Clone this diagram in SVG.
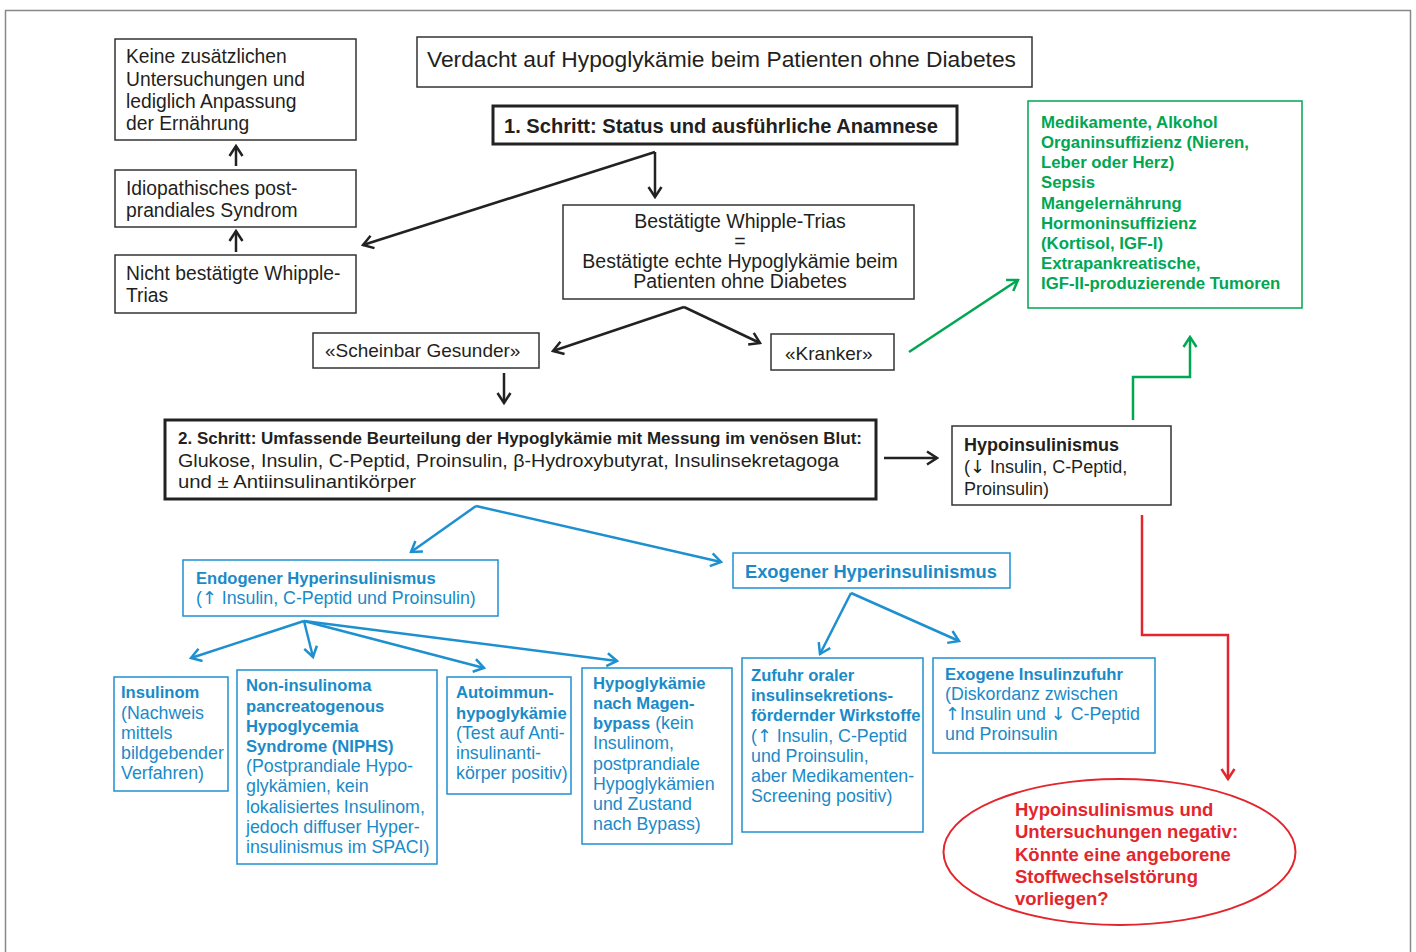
<svg xmlns="http://www.w3.org/2000/svg" width="1416" height="952" viewBox="0 0 1416 952">
<style>
.t{font-family:"Liberation Sans",Arial,sans-serif;fill:#231f20}
.ar{font-family:"DejaVu Sans",sans-serif}
.b{font-weight:bold}
.bx{fill:#fff;stroke:#333;stroke-width:1.5}
.bxt{fill:#fff;stroke:#222;stroke-width:3}
.gbx{fill:#fff;stroke:#00a651;stroke-width:1.5}
.blbx{fill:#fff;stroke:#1e90d0;stroke-width:1.5}
.k{font-size:19.3px}
.gt{font-size:16.8px;font-weight:bold;fill:#00a651}
.bt{font-size:17.8px;fill:#1a8ac8}
.bt.b{font-size:16.6px}
.rt{font-size:18.5px;font-weight:bold;fill:#e3262d}
.ck{stroke:#222;stroke-width:2.5;fill:none}
.cg{stroke:#00a651;stroke-width:2.5;fill:none}
.cb{stroke:#1e90d0;stroke-width:2.5;fill:none}
.cr{stroke:#e3262d;stroke-width:2.5;fill:none}
</style>
<defs>
<marker id="ak" markerUnits="userSpaceOnUse" viewBox="-12 -8 14 16" markerWidth="14" markerHeight="16" refX="0" refY="0" orient="auto"><path d="M-10,-6.5 L0,0 L-10,6.5" fill="none" stroke="#222" stroke-width="2.5"/></marker>
<marker id="ag" markerUnits="userSpaceOnUse" viewBox="-12 -8 14 16" markerWidth="14" markerHeight="16" refX="0" refY="0" orient="auto"><path d="M-10,-6.5 L0,0 L-10,6.5" fill="none" stroke="#00a651" stroke-width="2.5"/></marker>
<marker id="ab" markerUnits="userSpaceOnUse" viewBox="-12 -8 14 16" markerWidth="14" markerHeight="16" refX="0" refY="0" orient="auto"><path d="M-10,-6.5 L0,0 L-10,6.5" fill="none" stroke="#1e90d0" stroke-width="2.5"/></marker>
<marker id="ar" markerUnits="userSpaceOnUse" viewBox="-12 -8 14 16" markerWidth="14" markerHeight="16" refX="0" refY="0" orient="auto"><path d="M-10,-6.5 L0,0 L-10,6.5" fill="none" stroke="#e3262d" stroke-width="2.5"/></marker>
</defs>
<rect x="5.5" y="10.5" width="1405" height="960" fill="#fff" stroke="#888" stroke-width="1.5"/>

<g id="connectors">
<path class="ck" d="M236,166 V146" marker-end="url(#ak)"/>
<path class="ck" d="M236,252 V231" marker-end="url(#ak)"/>
<path class="ck" d="M655,152 V197" marker-end="url(#ak)"/>
<path class="ck" d="M655,152 L363,245" marker-end="url(#ak)"/>
<path class="ck" d="M684,307 L553,351" marker-end="url(#ak)"/>
<path class="ck" d="M684,307 L760,343" marker-end="url(#ak)"/>
<path class="ck" d="M504,373 V403" marker-end="url(#ak)"/>
<path class="ck" d="M884,458 H937" marker-end="url(#ak)"/>
<path class="cg" d="M909,352 L1018,280" marker-end="url(#ag)"/>
<path class="cg" d="M1133,420 V377 H1190 V337" marker-end="url(#ag)"/>
<path class="cr" d="M1142,515 V635 H1228 V779" marker-end="url(#ar)"/>
<path class="cb" d="M476,506 L411,552" marker-end="url(#ab)"/>
<path class="cb" d="M476,506 L721,562" marker-end="url(#ab)"/>
<path class="cb" d="M304,621 L191,658" marker-end="url(#ab)"/>
<path class="cb" d="M304,621 L313,657" marker-end="url(#ab)"/>
<path class="cb" d="M304,621 L484,668" marker-end="url(#ab)"/>
<path class="cb" d="M304,621 L617,661" marker-end="url(#ab)"/>
<path class="cb" d="M851,593 L820,654" marker-end="url(#ab)"/>
<path class="cb" d="M851,593 L959,641" marker-end="url(#ab)"/>
</g>

<g id="keine">
<rect class="bx" x="115" y="39" width="241" height="101"/>
<text class="t k" x="126" y="63">Keine zusätzlichen</text>
<text class="t k" x="126" y="86">Untersuchungen und</text>
<text class="t k" x="126" y="108">lediglich Anpassung</text>
<text class="t k" x="126" y="130">der Ernährung</text>
</g>
<g id="idiopathisch">
<rect class="bx" x="115" y="170" width="241" height="57"/>
<text class="t k" x="126" y="195">Idiopathisches post-</text>
<text class="t k" x="126" y="217">prandiales Syndrom</text>
</g>
<g id="nichtbestaetigt">
<rect class="bx" x="115" y="255" width="241" height="58"/>
<text class="t k" x="126" y="280">Nicht bestätigte Whipple-</text>
<text class="t k" x="126" y="302">Trias</text>
</g>
<g id="verdacht">
<rect class="bx" x="417" y="37" width="615" height="50"/>
<text class="t" x="427" y="67" font-size="22" textLength="589" lengthAdjust="spacingAndGlyphs">Verdacht auf Hypoglykämie beim Patienten ohne Diabetes</text>
</g>
<g id="schritt1">
<rect class="bxt" x="493" y="106" width="464" height="38"/>
<text class="t b" x="504" y="133" font-size="19.5" textLength="434" lengthAdjust="spacingAndGlyphs">1. Schritt: Status und ausführliche Anamnese</text>
</g>
<g id="whipple">
<rect class="bx" x="563" y="205" width="351" height="94"/>
<text class="t" x="740" y="228" font-size="19.5" text-anchor="middle">Bestätigte Whipple-Trias</text>
<text class="t" x="740" y="248" font-size="19.5" text-anchor="middle">=</text>
<text class="t" x="740" y="268" font-size="19.5" text-anchor="middle">Bestätigte echte Hypoglykämie beim</text>
<text class="t" x="740" y="288" font-size="19.5" text-anchor="middle">Patienten ohne Diabetes</text>
</g>
<g id="gesunder">
<rect class="bx" x="313" y="333" width="226" height="35"/>
<text class="t" x="325" y="357" font-size="19">«Scheinbar Gesunder»</text>
</g>
<g id="kranker">
<rect class="bx" x="771" y="334" width="123" height="36"/>
<text class="t" x="785" y="360" font-size="19">«Kranker»</text>
</g>
<g id="ursachen">
<rect class="gbx" x="1028" y="101" width="274" height="207"/>
<text class="t gt" x="1041" y="128">Medikamente, Alkohol</text>
<text class="t gt" x="1041" y="148">Organinsuffizienz (Nieren,</text>
<text class="t gt" x="1041" y="168">Leber oder Herz)</text>
<text class="t gt" x="1041" y="188">Sepsis</text>
<text class="t gt" x="1041" y="209">Mangelernährung</text>
<text class="t gt" x="1041" y="229">Hormoninsuffizienz</text>
<text class="t gt" x="1041" y="249">(Kortisol, IGF-I)</text>
<text class="t gt" x="1041" y="269">Extrapankreatische,</text>
<text class="t gt" x="1041" y="289">IGF-II-produzierende Tumoren</text>
</g>
<g id="schritt2">
<rect class="bxt" x="165" y="420" width="711" height="79"/>
<text class="t b" x="178" y="444" font-size="17" textLength="684" lengthAdjust="spacingAndGlyphs">2. Schritt: Umfassende Beurteilung der Hypoglykämie mit Messung im venösen Blut:</text>
<text class="t" x="178" y="467" font-size="18" textLength="661" lengthAdjust="spacingAndGlyphs">Glukose, Insulin, C-Peptid, Proinsulin, β-Hydroxybutyrat, Insulinsekretagoga</text>
<text class="t" x="178" y="488" font-size="18" textLength="238" lengthAdjust="spacingAndGlyphs">und ± Antiinsulinantikörper</text>
</g>
<g id="hypoinsulinismus">
<rect class="bx" x="952" y="426" width="219" height="79"/>
<text class="t b" x="964" y="451" font-size="18">Hypoinsulinismus</text>
<text class="t" x="964" y="473" font-size="18">(<tspan class="ar">↓</tspan> Insulin, C-Peptid,</text>
<text class="t" x="964" y="495" font-size="18">Proinsulin)</text>
</g>
<g id="endogen">
<rect class="blbx" x="183" y="560" width="315" height="56"/>
<text class="t bt b" x="196" y="584">Endogener Hyperinsulinismus</text>
<text class="t bt" x="196" y="604">(<tspan class="ar">↑</tspan> Insulin, C-Peptid und Proinsulin)</text>
</g>
<g id="exogen">
<rect class="blbx" x="733" y="553" width="277" height="35"/>
<text class="t bt b" x="745" y="578" style="font-size:18.3px">Exogener Hyperinsulinismus</text>
</g>
<g id="insulinom">
<rect class="blbx" x="114" y="677" width="114" height="114"/>
<text class="t bt b" x="121" y="698">Insulinom</text>
<text class="t bt" x="121" y="719">(Nachweis</text>
<text class="t bt" x="121" y="739">mittels</text>
<text class="t bt" x="121" y="759">bildgebender</text>
<text class="t bt" x="121" y="779">Verfahren)</text>
</g>
<g id="niphs">
<rect class="blbx" x="237" y="670" width="200" height="194"/>
<text class="t bt b" x="246" y="691">Non-insulinoma</text>
<text class="t bt b" x="246" y="712">pancreatogenous</text>
<text class="t bt b" x="246" y="732">Hypoglycemia</text>
<text class="t bt b" x="246" y="752">Syndrome (NIPHS)</text>
<text class="t bt" x="246" y="772">(Postprandiale Hypo-</text>
<text class="t bt" x="246" y="792">glykämien, kein</text>
<text class="t bt" x="246" y="813">lokalisiertes Insulinom,</text>
<text class="t bt" x="246" y="833">jedoch diffuser Hyper-</text>
<text class="t bt" x="246" y="853">insulinismus im SPACI)</text>
</g>
<g id="autoimmun">
<rect class="blbx" x="447" y="677" width="124" height="117"/>
<text class="t bt b" x="456" y="698">Autoimmun-</text>
<text class="t bt b" x="456" y="719">hypoglykämie</text>
<text class="t bt" x="456" y="739">(Test auf Anti-</text>
<text class="t bt" x="456" y="759">insulinanti-</text>
<text class="t bt" x="456" y="779">körper positiv)</text>
</g>
<g id="magenbypass">
<rect class="blbx" x="582" y="668" width="150" height="176"/>
<text class="t bt b" x="593" y="689">Hypoglykämie</text>
<text class="t bt b" x="593" y="709">nach Magen-</text>
<text class="t bt" x="593" y="729"><tspan font-weight="bold" style="font-size:16.6px">bypass</tspan> (kein</text>
<text class="t bt" x="593" y="749">Insulinom,</text>
<text class="t bt" x="593" y="770">postprandiale</text>
<text class="t bt" x="593" y="790">Hypoglykämien</text>
<text class="t bt" x="593" y="810">und Zustand</text>
<text class="t bt" x="593" y="830">nach Bypass)</text>
</g>
<g id="zufuhr">
<rect class="blbx" x="742" y="658" width="181" height="174"/>
<text class="t bt b" x="751" y="681">Zufuhr oraler</text>
<text class="t bt b" x="751" y="701">insulinsekretions-</text>
<text class="t bt b" x="751" y="721">fördernder Wirkstoffe</text>
<text class="t bt" x="751" y="742">(<tspan class="ar">↑</tspan> Insulin, C-Peptid</text>
<text class="t bt" x="751" y="762">und Proinsulin,</text>
<text class="t bt" x="751" y="782">aber Medikamenten-</text>
<text class="t bt" x="751" y="802">Screening positiv)</text>
</g>
<g id="exogeneinsulin">
<rect class="blbx" x="933" y="658" width="222" height="95"/>
<text class="t bt b" x="945" y="680">Exogene Insulinzufuhr</text>
<text class="t bt" x="945" y="700">(Diskordanz zwischen</text>
<text class="t bt" x="945" y="720"><tspan class="ar">↑</tspan>Insulin und <tspan class="ar">↓</tspan> C-Peptid</text>
<text class="t bt" x="945" y="740">und Proinsulin</text>
</g>
<g id="stoffwechsel">
<ellipse cx="1119.5" cy="852" rx="176" ry="73" fill="#fff" stroke="#e3262d" stroke-width="2"/>
<text class="t rt" x="1015" y="816">Hypoinsulinismus und</text>
<text class="t rt" x="1015" y="838">Untersuchungen negativ:</text>
<text class="t rt" x="1015" y="861">Könnte eine angeborene</text>
<text class="t rt" x="1015" y="883">Stoffwechselstörung</text>
<text class="t rt" x="1015" y="905">vorliegen?</text>
</g>
</svg>
